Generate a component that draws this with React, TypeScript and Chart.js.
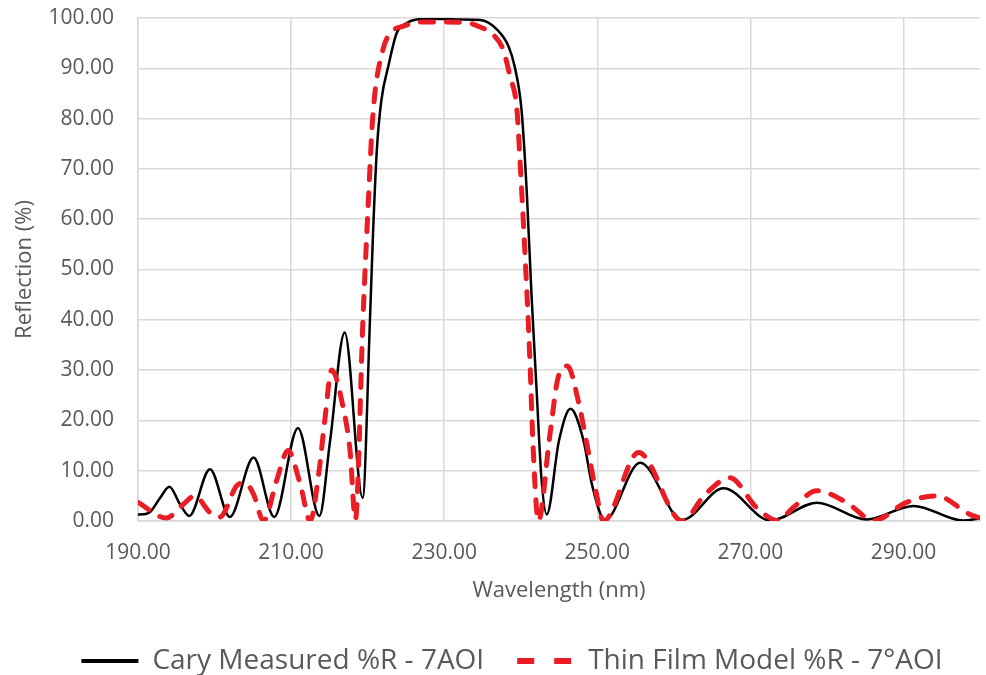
import React, { useEffect, useRef } from "react";
import { Chart, registerables } from "chart.js";

Chart.register(...registerables);

const wavelengthTicks = [190, 210, 230, 250, 270, 290];
const reflectionTicks = [0, 10, 20, 30, 40, 50, 60, 70, 80, 90, 100];
const seriesLabels = ["Cary Measured %R - 7AOI", "Thin Film Model %R - 7°AOI"];

const measuredWavelength = [
  190, 191.0, 191.6, 192.9, 194.1, 195.5, 196.7, 199.4, 202.0, 205.1, 207.8, 210.9, 213.7, 215.1,
  217.0, 219.35, 220.3, 220.7, 221.2, 221.8, 222.7, 223.8, 225.1, 226.4, 228, 230, 232, 234.7,
  236.9, 238.4, 239.2, 240.1, 240.8, 241.4, 242.1, 242.7, 243.4, 245.0, 246.5, 248.2, 249.3, 251.0,
  255.6, 261.1, 266.5, 272.6, 278.7, 285.2, 291.3, 297.8, 300,
];
const measuredReflection = [
  1.3, 1.4, 1.8, 4.6, 6.8, 3.3, 1.0, 10.3, 0.8, 12.6, 0.8, 18.5, 1.0, 16,
  37.5, 4.6, 39.8, 57, 73.7, 83.7, 90.4, 97, 99, 99.7, 99.8, 99.8, 99.7, 99.6,
  97.7, 94.4, 90.4, 81.8, 65.1, 45.2, 25.3, 8.6, 1.3, 16, 22.3, 16, 7.3, 0.2,
  11.6, 0.2, 6.5, 0.1, 3.65, 0.3, 3.0, 0.1, 0.5,
];

const modelWavelength = [
  190, 193.7, 195.9, 197.4, 199.4, 200.7, 202.9, 204.0, 205.1, 206.4, 208.1, 209.6, 211.2, 212.5,
  213.6, 214.4, 215.3, 216.8, 217.7, 218.4, 219.4, 220.1, 220.7, 222.0, 223.2, 224.7, 226.8, 230,
  232.9, 234.7, 236.4, 237.7, 238.6, 239.5, 239.9, 240.6, 241.2, 241.6, 242.3, 243.8, 244.9, 246.1,
  247.5, 248.8, 249.9, 250.8, 255.4, 261.1, 264.1, 267.3, 270.8, 273.6, 275.6, 278.7, 282.6, 286.1,
  290.4, 294.3, 298.7, 300,
];
const modelReflection = [
  3.7, 0.6, 3.3, 5.0, 1.7, 0.8, 7.0, 7.6, 5.3, 0.0, 8.0, 14.0, 7.3, 0.0,
  9.3, 20, 30, 22.6, 14, 0.3, 40.5, 63.8, 81, 93.7, 97.3, 98.4, 99.2, 99.2,
  99.1, 98.2, 96.7, 93.7, 88.4, 81.8, 71.8, 51.8, 31.9, 15.3, 0.0, 17, 28.6, 30.8,
  24, 14, 5.3, 0, 13.6, 0, 5.3, 8.6, 2.7, 0.1, 2.7, 6.0, 3.65, 0.1,
  3.7, 5.0, 1.3, 0.6,
];

const FONT = "'Open Sans', 'DejaVu Sans', sans-serif";
const TEXT_COLOR = "#595959";
const GRID_COLOR = "#d9d9d9";

export default function App() {
  const ref = useRef<HTMLCanvasElement>(null);

  useEffect(() => {
    const canvas = ref.current;
    if (!canvas) return;
    const toPoints = (xs: number[], ys: number[]) => xs.map((x, i) => ({ x, y: ys[i] }));

    const legendNudge = {
      id: "legendNudge",
      afterLayout(chart: any) {
        const l = chart.legend;
        if (!l) return;
        l.left += 22;
        l.right += 22;
        l.top += 10;
        l.bottom += 10;
      },
    };

    const chart = new Chart(canvas, {
      type: "line",
      data: {
        datasets: [
          {
            label: seriesLabels[1],
            data: toPoints(modelWavelength, modelReflection),
            borderColor: "#ea1c24",
            backgroundColor: "#ea1c24",
            borderWidth: 5,
            borderDash: [13, 13],
            borderCapStyle: "round",
            pointRadius: 0,
            cubicInterpolationMode: "monotone",
            fill: false,
          },
          {
            label: seriesLabels[0],
            data: toPoints(measuredWavelength, measuredReflection),
            borderColor: "#000000",
            backgroundColor: "#000000",
            borderWidth: 2.5,
            pointRadius: 0,
            cubicInterpolationMode: "monotone",
            fill: false,
          },
        ],
      },
      options: {
        responsive: false,
        animation: false,
        layout: { padding: { left: 0, right: 6, top: 18, bottom: 0 } },
        scales: {
          x: {
            type: "linear",
            min: 190,
            max: 300,
            afterBuildTicks: (s: any) => {
              s.ticks = wavelengthTicks.map((v) => ({ value: v }));
            },
            afterFit: (s: any) => {
              s.height = 83;
            },
            grid: { color: GRID_COLOR, lineWidth: 1.5, drawTicks: false },
            border: { color: GRID_COLOR, width: 1.5 },
            ticks: {
              padding: 19,
              color: TEXT_COLOR,
              font: { family: FONT, size: 21 },
              maxRotation: 0,
              autoSkip: false,
              callback: (v: any) => Number(v).toFixed(2),
            },
            title: {
              display: true,
              text: "Wavelength (nm)",
              color: TEXT_COLOR,
              font: { family: FONT, size: 22 },
              padding: { top: 0, bottom: 0 },
            },
          },
          y: {
            type: "linear",
            min: 0,
            max: 100,
            afterBuildTicks: (s: any) => {
              s.ticks = reflectionTicks.map((v) => ({ value: v }));
            },
            afterFit: (s: any) => {
              s.width = 138;
            },
            grid: {
              color: GRID_COLOR,
              lineWidth: 1.5,
              drawTicks: true,
              tickLength: 21,
              tickColor: "rgba(0,0,0,0)",
            },
            border: { color: GRID_COLOR, width: 1.5 },
            ticks: {
              padding: 3,
              color: TEXT_COLOR,
              font: { family: FONT, size: 21 },
              callback: (v: any) => Number(v).toFixed(2),
            },
            title: {
              display: true,
              text: "Reflection (%)",
              color: TEXT_COLOR,
              font: { family: FONT, size: 22 },
              padding: { top: 12, bottom: 0 },
            },
          },
        },
        plugins: {
          legend: {
            position: "bottom",
            labels: {
              usePointStyle: true,
              pointStyleWidth: 57,
              padding: 33,
              color: TEXT_COLOR,
              font: { family: FONT, size: 28 },
              generateLabels: (c: any) => {
                const ds = c.data.datasets;
                return [
                  {
                    text: ds[1].label,
                    fillStyle: "#000000",
                    strokeStyle: "#000000",
                    lineWidth: 4,
                    lineDash: [],
                    lineCap: "butt",
                    pointStyle: "line",
                    hidden: false,
                    datasetIndex: 1,
                    fontColor: TEXT_COLOR,
                  },
                  {
                    text: ds[0].label,
                    fillStyle: "#ea1c24",
                    strokeStyle: "#ea1c24",
                    lineWidth: 6,
                    lineDash: [17, 20],
                    lineCap: "butt",
                    pointStyle: "line",
                    hidden: false,
                    datasetIndex: 0,
                    fontColor: TEXT_COLOR,
                  },
                ];
              },
            },
          },
          tooltip: { enabled: false },
        },
      } as any,
      plugins: [legendNudge],
    });

    return () => chart.destroy();
  }, []);

  return (
    <div style={{ position: "fixed", left: 0, top: 0, width: 986, height: 675, background: "#ffffff" }}>
      <canvas ref={ref} width={986} height={675} style={{ display: "block" }} />
    </div>
  );
}
